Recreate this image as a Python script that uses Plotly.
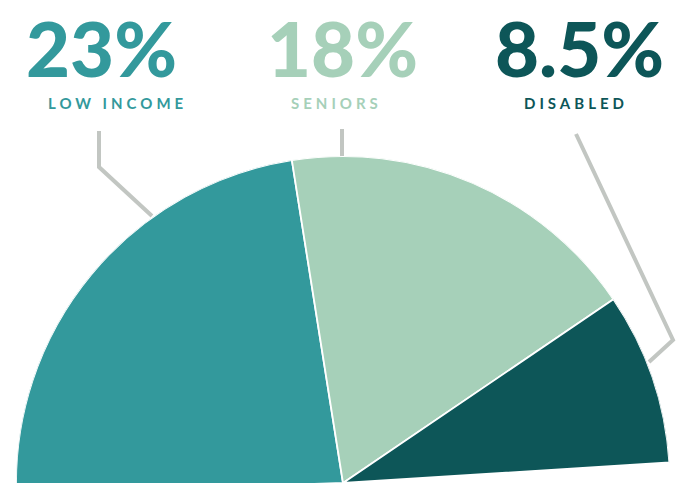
import plotly.graph_objects as go

# ---- data ----
categories = ["LOW INCOME", "SENIORS", "DISABLED"]
values = [23, 18, 8.5]            # percent of population
value_labels = ["23%", "18%", "8.5%"]
colors = ["#33999c", "#a6d0b9", "#0d5658"]

W, H = 684, 483

# angular positions (degrees, 100% = 360 deg), starting just below 9 o'clock, clockwise
widths = [v * 3.6 for v in values]
mids = []
acc = 0.0
for w in widths:
    mids.append(acc + w / 2)
    acc += w

fig = go.Figure()
fig.add_trace(go.Barpolar(
    r=[1] * len(values),
    theta=mids,
    width=widths,
    marker=dict(color=colors, line=dict(color="white", width=1.8)),
    hoverinfo="skip",
    showlegend=False,
))

cx, rad = 343, 327
fig.update_layout(
    width=W, height=H,
    margin=dict(l=0, r=0, t=0, b=0),
    paper_bgcolor="white",
    plot_bgcolor="white",
    polar=dict(
        domain=dict(x=[(cx - rad) / W, (cx + rad) / W], y=[0, rad / H]),
        sector=[0, 180],
        hole=0,
        bargap=0,
        bgcolor="white",
        radialaxis=dict(visible=False, range=[0, 1]),
        angularaxis=dict(visible=False, direction="clockwise", rotation=181.8),
    ),
)

def px(x, y):
    return x / W, 1 - y / H

# leader lines
grey = "#c2c6c2"
lines = [
    [(99, 131), (99, 167), (152, 216)],
    [(342, 129), (342, 156)],
    [(576, 134), (673, 340), (649, 362)],
]
for pts in lines:
    path = ""
    for i, (x, y) in enumerate(pts):
        xp, yp = px(x, y)
        path += ("M" if i == 0 else " L") + f"{xp:.5f},{yp:.5f}"
    fig.add_shape(type="path", path=path, xref="paper", yref="paper",
                  line=dict(color=grey, width=4))

# headline numbers and labels
num_x = [101, 342, 579]
lab_x = [117, 336, 576]
for i in range(len(categories)):
    xn, yn = px(num_x[i], 47)
    fig.add_annotation(text=value_labels[i], x=xn, y=yn, xref="paper", yref="paper",
                       xanchor="center", yanchor="middle", showarrow=False,
                       font=dict(family="Lato", size=76, color=colors[i], weight=900))
    xl, yl = px(lab_x[i], 103)
    fig.add_annotation(text=f"<span style='letter-spacing:4px'>{categories[i]}</span>",
                       x=xl, y=yl, xref="paper", yref="paper",
                       xanchor="center", yanchor="middle", showarrow=False,
                       font=dict(family="Lato", size=15, color=colors[i], weight="bold"))

fig.write_html("out.html",
               config={"displayModeBar": False, "staticPlot": True},
               post_script="document.body.style.margin='0px';document.body.style.overflow='hidden';")
